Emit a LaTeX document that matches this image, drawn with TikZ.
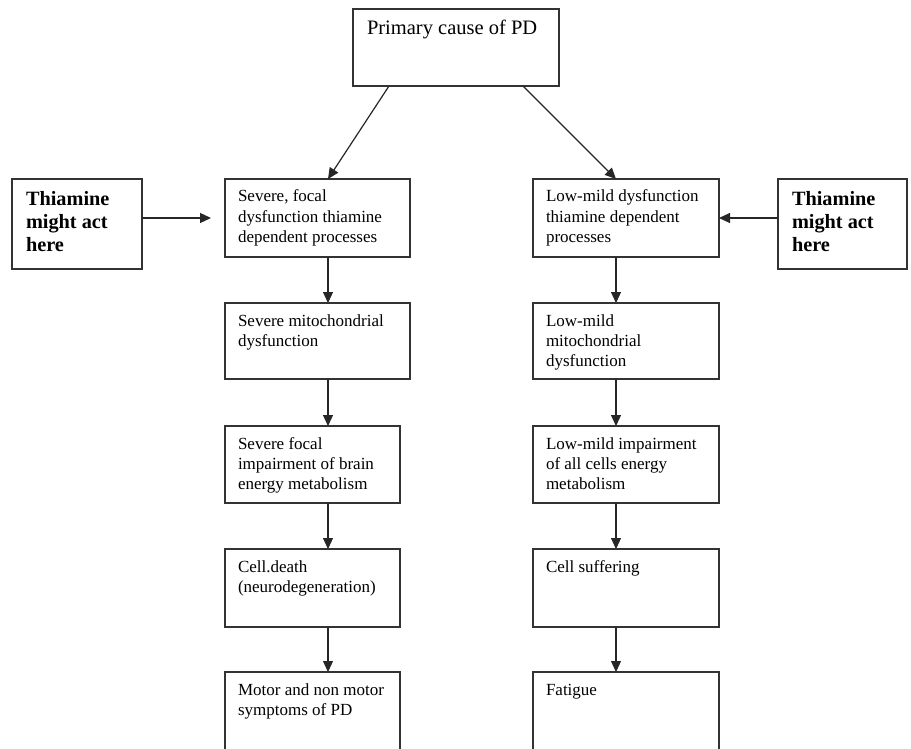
\documentclass[tikz,border=0pt]{standalone}
\usepackage{fontspec}
\setmainfont{Liberation Serif}
\usetikzlibrary{arrows.meta, calc}

\begin{document}
\begin{tikzpicture}
    [
        x=1pt, y=-1pt,
        frame/.style={draw=black!80, line width=1.2pt, outer sep=0pt, anchor=north west, align=left, inner ysep=0pt,
            execute at begin node={\spaceskip=0pt \xspaceskip=0pt \hyphenpenalty=10000 }},
        stage/.style 2 args={frame, inner xsep=13pt, text width=#1-26pt, text height=23pt, text depth=#2-23pt, font=\fontsize{17}{20.3}\selectfont},
        cause/.style 2 args={frame, inner xsep=14pt, text width=#1-28pt, text height=26pt, text depth=#2-26pt, font=\fontsize{20.5}{24}\selectfont},
        hint/.style 2 args={frame, inner xsep=14pt, text width=#1-28pt, text height=26pt, text depth=#2-26pt, font=\fontsize{20.3}{23.5}\selectfont\bfseries},
        link/.style={draw=black!85, line width=1.2pt, -{Triangle[length=11pt, width=10pt]}}
    ]
    \useasboundingbox (0,0) rectangle (911,749);

    \node[cause={206}{77}] (cause) at (353,9) {Primary cause of PD};

    % severe branch
    \node[hint={130}{90}] (hintL) at (12,179) {Thiamine\\might act\\here};
    \node[stage={185}{78}] (sev1) at (225,179) {Severe, focal\\dysfunction thiamine\\dependent processes};
    \node[stage={185}{76}] (sev2) at (225,303) {Severe mitochondrial\\dysfunction};
    \node[stage={175}{77}] (sev3) at (225,426) {Severe focal\\impairment of brain\\energy metabolism};
    \node[stage={175}{78}] (sev4) at (225,549) {Cell.death\\(neurodegeneration)};
    \node[stage={175}{82}] (sev5) at (225,672) {Motor and non motor\\symptoms of PD};

    % low-mild branch
    \node[hint={129}{90}] (hintR) at (778,179) {Thiamine\\might act\\here};
    \node[stage={186}{78}] (low1) at (533,179) {Low-mild dysfunction\\thiamine dependent\\processes};
    \node[stage={186}{76}] (low2) at (533,303) {Low-mild\\mitochondrial\\dysfunction};
    \node[stage={186}{77}] (low3) at (533,426) {Low-mild impairment\\of all cells energy\\metabolism};
    \node[stage={186}{78}] (low4) at (533,549) {Cell suffering};
    \node[stage={186}{82}] (low5) at (533,672) {Fatigue};

    \coordinate (colL) at (328,0);
    \coordinate (colR) at (616,0);

    \draw[link] ($(cause.south west)+(36,0)$) -- (sev1.north -| colL);
    \draw[link] ($(cause.south west)+(170,0)$) -- (low1.north -| colR);

    \foreach \a/\b in {sev1/sev2, sev2/sev3, sev3/sev4, sev4/sev5}
        \draw[link] (\a.south -| colL) -- (\b.north -| colL);
    \foreach \a/\b in {low1/low2, low2/low3, low3/low4, low4/low5}
        \draw[link] (\a.south -| colR) -- (\b.north -| colR);

    \draw[link, shorten >=14pt] (hintL.east |- sev1.west) -- (sev1.west);
    \draw[link] (hintR.west |- low1.east) -- (low1.east);
\end{tikzpicture}
\end{document}
